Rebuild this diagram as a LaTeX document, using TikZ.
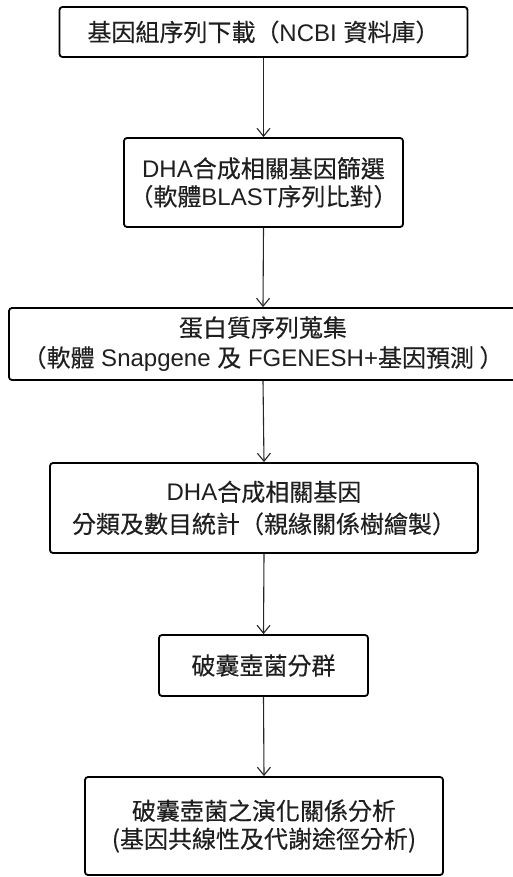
\documentclass[tikz,border=0pt]{standalone}
\usepackage{fontspec}
\setmainfont{Liberation Sans}
\newfontfamily\cjk{Noto Sans CJK TC}[FakeBold=0.3]
\usetikzlibrary{arrows.meta}
\newcommand\zh[1]{{\cjk #1}}
\begin{document}
\begin{tikzpicture}[x=1pt,y=-1pt,
  box/.style={draw, line width=1.8pt, rounded corners=3pt, inner sep=0pt, align=center, text=black!88},
  arr/.style={line width=1.1pt, draw=black!85, -{Straight Barb[length=8pt,width=13pt,line width=1.1pt]}}]
\useasboundingbox (0,0) rectangle (512,877);
\node[box, minimum width=408pt, minimum height=50pt, font=\fontsize{24}{28}\selectfont] (b1) at (263.5,32)
  {\zh{基因組序列下載（}NCBI \zh{資料庫）}};
\node[box, minimum width=279pt, minimum height=89pt, font=\fontsize{24}{28}\selectfont] (b2) at (263.5,182.5)
  {DHA\zh{合成相關基因篩選}\\\zh{（軟體}BLAST\zh{序列比對）}};
\node[box, minimum width=508pt, minimum height=72pt, font=\fontsize{24}{30}\selectfont] (b3) at (263,344)
  {\zh{蛋白質序列蒐集}\\\zh{（軟體} Snapgene \zh{及} FGENESH+\zh{基因預測 ）}};
\node[box, minimum width=428pt, minimum height=90pt, font=\fontsize{24}{32}\selectfont] (b4) at (264,508)
  {DHA\zh{合成相關基因}\\\zh{分類及數目統計（親緣關係樹繪製）}};
\node[box, minimum width=209pt, minimum height=61pt, font=\fontsize{24}{28}\selectfont] (b5) at (263.5,665.5)
  {\zh{破囊壺菌分群}};
\node[box, minimum width=358pt, minimum height=98pt, font=\fontsize{24}{28}\selectfont] (b6) at (264,826)
  {\zh{破囊壺菌之演化關係分析}\\\zh{(基因共線性及代謝途徑分析)}};
\draw[arr] (b1.south) -- (b2.north);
\draw[arr] (b2.south) -- (b3.north);
\draw[arr] (b3.south) -- (b4.north);
\draw[arr] (b4.south) -- (b5.north);
\draw[arr] (b5.south) -- (b6.north);
\end{tikzpicture}
\end{document}
